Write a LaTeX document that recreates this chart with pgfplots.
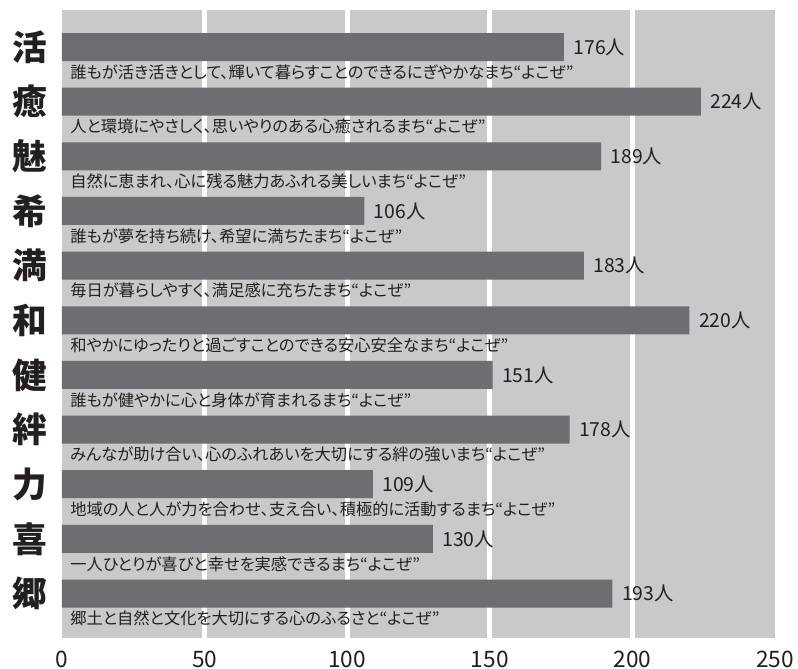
\documentclass[border=0pt]{standalone}
\usepackage{fontspec}
\usepackage{pgfplots}
\pgfplotsset{compat=1.18}
\setmainfont{Noto Sans CJK JP}[RawFeature={+palt}]
\newfontfamily\kanjifont{Noto Sans CJK JP}
\definecolor{bargray}{HTML}{6D6E71}
\definecolor{bggray}{HTML}{C8C9CB}
\definecolor{txt}{HTML}{231F20}
\begin{document}
\begin{tikzpicture}
\useasboundingbox (-46.5pt,-22.5pt) rectangle (552pt,478.5pt);
\begin{axis}[
 scale only axis, width=534.75pt, height=471pt,
 xmin=0, xmax=250, ymin=0.323, ymax=11.814, y dir=reverse,
 xbar, bar width=21pt,
 axis background/.style={fill=bggray},
 axis line style={draw=none},
 major tick length=0pt, minor tick length=0pt,
 xtick={0,50,100,150,200,250},
 minor xtick={50,100,150,200},
 xminorgrids, minor grid style={white, line width=3.75pt},
 ytick={1,...,11},
 yticklabels={活,癒,魅,希,満,和,健,絆,力,喜,郷},
 y tick label style={font=\kanjifont\bfseries\fontsize{26}{26}\selectfont, anchor=east, inner sep=0pt, xshift=-11pt, text=txt},
 x tick label style={font=\fontsize{17}{17}\selectfont, anchor=base, inner sep=0pt, yshift=-21.75pt, text=txt},
 /pgf/number format/assume math mode=true,
 point meta=x,
 nodes near coords={\pgfmathprintnumber{\pgfplotspointmeta}人},
 nodes near coords style={anchor=west, inner sep=0pt, xshift=7pt, font=\fontsize{14.5}{14.5}\selectfont, text=txt},
 clip=false,
]
\addplot[fill=bargray, draw=none] coordinates {(176,1) (224,2) (189,3) (106,4) (183,5) (220,6) (151,7) (178,8) (109,9) (130,10) (193,11)};
\begin{scope}[every node/.style={anchor=west, inner sep=0pt, xshift=6pt, font=\fontsize{12.2}{12.2}\selectfont, text=txt}]
\node at (axis cs:0,1.46) {誰もが活き活きとして、輝いて暮らすことのできるにぎやかなまち“よこぜ”};
\node at (axis cs:0,2.46) {人と環境にやさしく、思いやりのある心癒されるまち“よこぜ”};
\node at (axis cs:0,3.46) {自然に恵まれ、心に残る魅力あふれる美しいまち“よこぜ”};
\node at (axis cs:0,4.46) {誰もが夢を持ち続け、希望に満ちたまち“よこぜ”};
\node at (axis cs:0,5.46) {毎日が暮らしやすく、満足感に充ちたまち“よこぜ”};
\node at (axis cs:0,6.46) {和やかにゆったりと過ごすことのできる安心安全なまち“よこぜ”};
\node at (axis cs:0,7.46) {誰もが健やかに心と身体が育まれるまち“よこぜ”};
\node at (axis cs:0,8.46) {みんなが助け合い、心のふれあいを大切にする絆の強いまち“よこぜ”};
\node at (axis cs:0,9.46) {地域の人と人が力を合わせ、支え合い、積極的に活動するまち“よこぜ”};
\node at (axis cs:0,10.46) {一人ひとりが喜びと幸せを実感できるまち“よこぜ”};
\node at (axis cs:0,11.46) {郷土と自然と文化を大切にする心のふるさと“よこぜ”};
\end{scope}
\end{axis}
\end{tikzpicture}
\end{document}
